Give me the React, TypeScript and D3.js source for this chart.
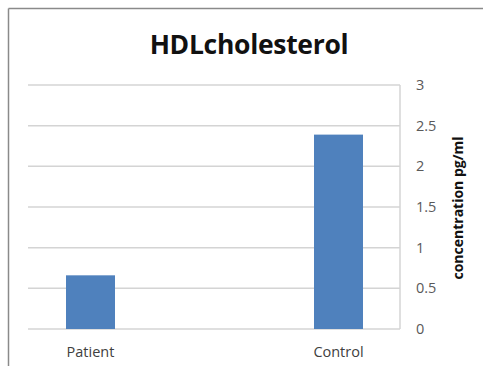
import React from "react";
import * as d3 from "d3";

const categories: string[] = ["Patient", "Control"];
const values: number[] = [0.66, 2.39];
const yTicks: number[] = [0, 0.5, 1, 1.5, 2, 2.5, 3];
const title = "HDLcholesterol";
const axisTitle = "concentration pg/ml";

export default function App() {
  const W = 483, H = 366;
  const plot = { left: 28, right: 400, top: 85, bottom: 329 };
  const y = d3.scaleLinear().domain([0, 3]).range([plot.bottom, plot.top]);
  const x = d3.scalePoint<string>().domain(categories).range([90.5, 338.5]);
  const barW = 49;
  const font = "'Open Sans', 'Liberation Sans', sans-serif";
  return (
    <svg width={W} height={H} style={{ position: "absolute", left: 0, top: 0, background: "#fff" }}>
      <rect x={0} y={0} width={W} height={H} fill="#fff" />
      <line x1={8.5} y1={8.5} x2={W} y2={8.5} stroke="#8a8a8a" strokeWidth={1.5} />
      <line x1={8.5} y1={8.5} x2={8.5} y2={H} stroke="#8a8a8a" strokeWidth={1.5} />
      <text x={249} y={54} textAnchor="middle" fontFamily={font} fontWeight="bold" fontSize={26.5} letterSpacing={-0.3} fill="#111">
        {title}
      </text>
      {yTicks.map((t) => (
        <g key={t}>
          <line x1={plot.left} x2={plot.right} y1={y(t)} y2={y(t)} stroke="#d4d4d4" strokeWidth={1.5} />
          <text x={416} y={y(t)} dy="0.35em" fontFamily={font} fontSize={14.5} fill="#595959">
            {t}
          </text>
        </g>
      ))}
      <line x1={plot.right} x2={plot.right} y1={plot.top} y2={plot.bottom} stroke="#d4d4d4" strokeWidth={1.5} />
      {categories.map((c, i) => (
        <g key={c}>
          <rect x={(x(c) as number) - barW / 2} y={y(values[i])} width={barW} height={plot.bottom - y(values[i])} fill="#4F81BD" />
          <text x={x(c) as number} y={357} textAnchor="middle" fontFamily={font} fontSize={14.5} fill="#404040">
            {c}
          </text>
        </g>
      ))}
      <text transform={`translate(463,208) rotate(-90)`} textAnchor="middle" fontFamily={font} fontWeight="bold" fontSize={14} fill="#111">
        {axisTitle}
      </text>
    </svg>
  );
}
